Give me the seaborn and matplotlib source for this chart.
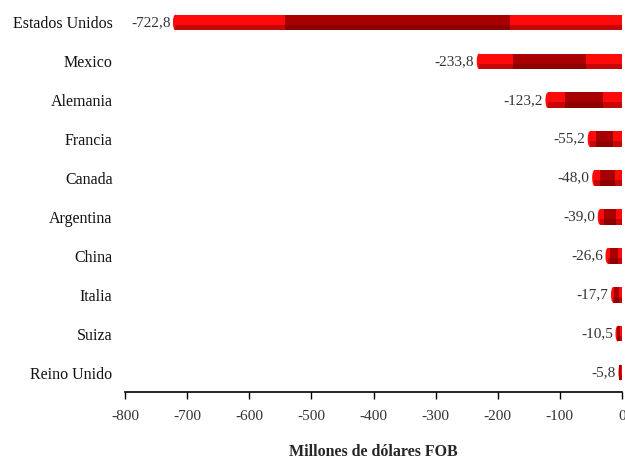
import matplotlib
matplotlib.use("Agg")
import matplotlib.pyplot as plt
from matplotlib.patches import Ellipse
import seaborn as sns
import pandas as pd
import numpy as np

paises = ["Estados Unidos", "Mexico", "Alemania", "Francia", "Canada",
          "Argentina", "China", "Italia", "Suiza", "Reino Unido"]
valores = [-722.8, -233.8, -123.2, -55.2, -48.0, -39.0, -26.6, -17.7, -10.5, -5.8]
etiquetas = ["-722,8", "-233,8", "-123,2", "-55,2", "-48,0", "-39,0", "-26,6", "-17,7", "-10,5", "-5,8"]
ticks = [-800, -700, -600, -500, -400, -300, -200, -100, 0]

sns.set_theme(style="white")
plt.rcParams["font.family"] = ["Liberation Serif", "DejaVu Serif"]

df = pd.DataFrame({"pais": paises, "valor": valores})

fig = plt.figure(figsize=(6.25, 4.59), dpi=100)
ax = fig.add_axes([125/625, 1 - 392/459, 497/625, (392 - 3)/459])

h = 0.40
cap = 7.0  # data units for rounded left cap
df["body"] = [v + cap / 2 for v in valores]
sns.barplot(data=df, x="body", y="pais", orient="h", color="#FF0A0A",
            width=h, saturation=1, ax=ax, edgecolor="none")
ys = np.arange(len(paises))
v = np.array(valores)
for y, val in zip(ys, valores):
    ax.add_patch(Ellipse((val + cap / 2, y), cap, h, color="#FF0A0A", lw=0, zorder=2))
# darker middle half of each cylinder
ax.barh(ys, v * 0.5, left=v * 0.25, height=h, color="#A80000", edgecolor="none", zorder=3)
# cylinder shading: darker lower strip
ax.barh(ys + h * 0.32, v + cap / 2, height=h * 0.36, color="#600000", alpha=0.35,
        edgecolor="none", zorder=4)

for y, val, lab in zip(ys, valores, etiquetas):
    ax.text(val - 4, y, lab, ha="right", va="center", fontsize=11, color="#333333")

ax.set_xlim(-800, 0)
ax.set_ylim(len(paises) - 0.5, -0.5)
ax.set_xticks(ticks)
ax.set_xticklabels([str(t) for t in ticks], fontsize=11, color="#333333")
ax.tick_params(axis="x", direction="out", length=5, width=1, color="black", pad=8, bottom=True)
ax.tick_params(axis="y", length=0, pad=9, labelsize=11.5, labelcolor="#111111")
ax.set_ylabel("")
ax.set_xlabel("Millones de dólares FOB", fontsize=11.5, fontweight="bold", labelpad=15)
for s in ["top", "right", "left"]:
    ax.spines[s].set_visible(False)
ax.spines["bottom"].set_color("black")
ax.spines["bottom"].set_linewidth(1.2)

fig.savefig("out.png", dpi=100, facecolor="white")
